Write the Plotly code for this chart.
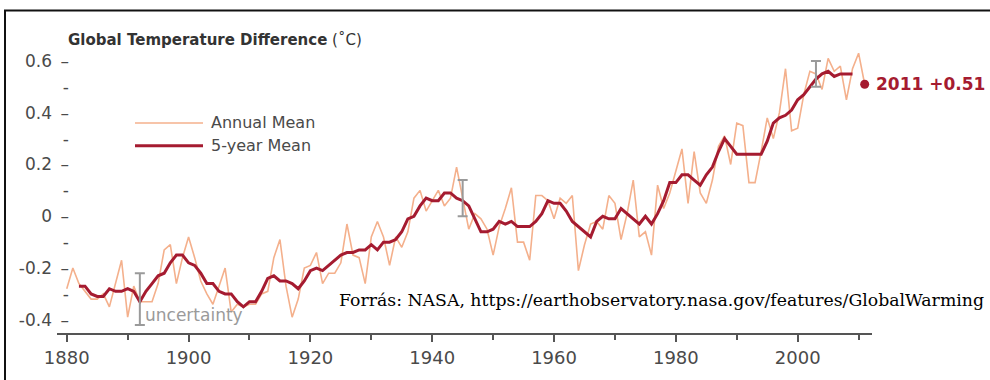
import plotly.graph_objects as go

# ---------------- data ----------------
annual_years = list(range(1880, 2012))
annual_mean = [
    -0.28, -0.20, -0.26, -0.29, -0.32, -0.32, -0.30, -0.35, -0.26, -0.17,
    -0.39, -0.27, -0.33, -0.33, -0.33, -0.26, -0.13, -0.11, -0.26, -0.16,
    -0.08, -0.16, -0.25, -0.30, -0.34, -0.27, -0.20, -0.37, -0.34, -0.35,
    -0.34, -0.34, -0.30, -0.29, -0.16, -0.09, -0.27, -0.39, -0.32, -0.20,
    -0.19, -0.14, -0.26, -0.22, -0.22, -0.18, -0.03, -0.15, -0.16, -0.26,
    -0.08, -0.02, -0.08, -0.19, -0.08, -0.12, -0.06, 0.07, 0.10, 0.02,
    0.06, 0.10, 0.04, 0.07, 0.19, 0.07, -0.05, 0.01, -0.01, -0.05,
    -0.15, -0.04, 0.03, 0.11, -0.10, -0.10, -0.17, 0.08, 0.08, 0.06,
    -0.01, 0.07, 0.05, 0.08, -0.21, -0.11, -0.03, -0.02, -0.05, 0.08,
    0.05, -0.09, 0.01, 0.14, -0.08, -0.06, -0.15, 0.12, 0.03, 0.09,
    0.17, 0.26, 0.05, 0.25, 0.09, 0.05, 0.14, 0.27, 0.31, 0.20,
    0.36, 0.35, 0.13, 0.13, 0.25, 0.38, 0.30, 0.40, 0.57, 0.33,
    0.34, 0.47, 0.56, 0.55, 0.49, 0.61, 0.56, 0.58, 0.45, 0.57,
    0.63, 0.51,
]

five_year_years = list(range(1882, 2010))
five_year_mean = [
    -0.27, -0.27, -0.30, -0.31, -0.31, -0.28, -0.29, -0.29,
    -0.28, -0.29, -0.33, -0.29, -0.26, -0.23, -0.22, -0.18, -0.15, -0.15,
    -0.18, -0.19, -0.22, -0.26, -0.26, -0.29, -0.30, -0.30, -0.33, -0.35,
    -0.33, -0.33, -0.29, -0.24, -0.23, -0.25, -0.25, -0.26, -0.28, -0.25,
    -0.21, -0.20, -0.21, -0.19, -0.17, -0.15, -0.14, -0.14, -0.13, -0.13,
    -0.11, -0.13, -0.10, -0.10, -0.09, -0.06, -0.01, 0.00, 0.04, 0.07,
    0.06, 0.06, 0.09, 0.09, 0.07, 0.06, 0.04, -0.01, -0.06, -0.06,
    -0.05, -0.02, -0.03, -0.02, -0.04, -0.04, -0.04, -0.02, 0.01, 0.06,
    0.05, 0.05, 0.02, -0.02, -0.04, -0.06, -0.08, -0.02, 0.00, -0.01,
    -0.01, 0.03, 0.01, -0.01, -0.03, 0.00, -0.03, 0.01, 0.06, 0.13,
    0.13, 0.16, 0.16, 0.14, 0.12, 0.16, 0.19, 0.25, 0.30, 0.27,
    0.24, 0.24, 0.24, 0.24, 0.24, 0.29, 0.36, 0.38, 0.39, 0.41,
    0.45, 0.47, 0.50, 0.53, 0.55, 0.56, 0.54, 0.55, 0.55, 0.55,
]

uncertainty_years = [1892, 1945, 2003]
uncertainty_center = [-0.32, 0.07, 0.55]
uncertainty_half = [0.10, 0.07, 0.05]

highlight_year = [2011]
highlight_value = [0.51]
highlight_label = "2011 +0.51"

y_tick_vals = [-0.4, -0.3, -0.2, -0.1, 0.0, 0.1, 0.2, 0.3, 0.4, 0.5, 0.6]
y_tick_text = ["-0.4\u2002–", "-", "-0.2\u2002–", "-", "0\u2002–", "-",
               "0.2\u2002–", "-", "0.4\u2002–", "-", "0.6\u2002–"]
x_major_ticks = [1880, 1900, 1920, 1940, 1960, 1980, 2000]
x_minor_ticks = [1890, 1910, 1930, 1950, 1970, 1990, 2010]

title_text = "<b>Global Temperature Difference</b> (˚C)"
legend_labels = ["Annual Mean", "5-year Mean"]
source_text = "Forrás: NASA, https://earthobservatory.nasa.gov/features/GlobalWarming"

# ---------------- style ----------------
ANNUAL_COLOR = "#F4B08C"
FIVE_COLOR = "#A51B30"
GRAY_TXT = "#4a4a4a"
UNC_COLOR = "#9a9a9a"
SANS = "DejaVu Sans"

W, H = 990, 380
ML, MR, MT, MB = 57, 118, 48, 43
PW = W - ML - MR
PH = H - MT - MB


def px(xpix):
    return (xpix - ML) / PW


def py(ypix):
    return (H - MB - ypix) / PH


fig = go.Figure()

fig.add_trace(go.Scatter(
    x=annual_years, y=annual_mean, mode="lines",
    line=dict(color=ANNUAL_COLOR, width=1.6), name=legend_labels[0],
    hoverinfo="x+y",
))
fig.add_trace(go.Scatter(
    x=five_year_years, y=five_year_mean, mode="lines",
    line=dict(color=FIVE_COLOR, width=3), name=legend_labels[1],
    hoverinfo="x+y",
))
fig.add_trace(go.Scatter(
    x=uncertainty_years, y=uncertainty_center, mode="markers",
    marker=dict(size=1, color="rgba(0,0,0,0)"),
    error_y=dict(type="data", array=uncertainty_half, visible=True,
                 color=UNC_COLOR, thickness=2, width=5),
    hoverinfo="skip", name="uncertainty",
))
fig.add_trace(go.Scatter(
    x=highlight_year, y=highlight_value, mode="markers",
    marker=dict(size=9, color=FIVE_COLOR), cliponaxis=False,
    hoverinfo="x+y", name="2011",
))

shapes = [
    # legend samples
    dict(type="line", xref="paper", yref="paper", x0=px(135), x1=px(203),
         y0=py(124), y1=py(124), line=dict(color=ANNUAL_COLOR, width=1.6)),
    dict(type="line", xref="paper", yref="paper", x0=px(135), x1=px(203),
         y0=py(147), y1=py(147), line=dict(color=FIVE_COLOR, width=3)),
    # frame (top and left edges visible)
    dict(type="rect", xref="paper", yref="paper", x0=px(5), x1=px(1000),
         y0=py(400), y1=py(10), line=dict(color="#111", width=2),
         fillcolor="rgba(0,0,0,0)", layer="above"),
]

annotations = [
    dict(text=title_text, xref="paper", yref="paper", x=px(66), y=py(40),
         xanchor="left", yanchor="middle", showarrow=False,
         font=dict(family=SANS, size=15, color="#333")),
    dict(text=legend_labels[0], xref="paper", yref="paper", x=px(209), y=py(124),
         xanchor="left", yanchor="middle", showarrow=False,
         font=dict(family=SANS, size=16, color=GRAY_TXT)),
    dict(text=legend_labels[1], xref="paper", yref="paper", x=px(209), y=py(147),
         xanchor="left", yanchor="middle", showarrow=False,
         font=dict(family=SANS, size=16, color=GRAY_TXT)),
    dict(text="uncertainty", x=uncertainty_years[0], y=-0.38, xref="x", yref="y",
         xanchor="left", yanchor="middle", xshift=3, showarrow=False,
         font=dict(family=SANS, size=17, color=UNC_COLOR)),
    dict(text="<b>" + highlight_label + "</b>", x=highlight_year[0], y=highlight_value[0],
         xref="x", yref="y", xanchor="left", yanchor="middle", xshift=9,
         showarrow=False, font=dict(family=SANS, size=17, color=FIVE_COLOR)),
    dict(text=source_text, xref="paper", yref="paper", x=px(986), y=py(304),
         xanchor="right", yanchor="middle", showarrow=False,
         font=dict(family="DejaVu Serif", size=17.3, color="#000")),
]

fig.update_layout(
    width=W, height=H,
    margin=dict(l=ML, r=MR, t=MT, b=MB, pad=0),
    paper_bgcolor="white", plot_bgcolor="white",
    showlegend=False,
    shapes=shapes, annotations=annotations,
    xaxis=dict(
        range=[1878.4, 2012.2], showgrid=False, zeroline=False,
        showline=True, linecolor="#555", linewidth=2,
        tickmode="array", tickvals=x_major_ticks,
        ticks="outside", ticklen=7, tickwidth=1.5, tickcolor="#555",
        tickfont=dict(family=SANS, size=18, color=GRAY_TXT),
        minor=dict(tickmode="array", tickvals=x_minor_ticks, ticks="outside",
                   ticklen=5, tickwidth=1.5, tickcolor="#555"),
        fixedrange=True,
    ),
    yaxis=dict(
        range=[-0.451, 0.65], showgrid=False, zeroline=False, showline=False,
        anchor="free", position=px(69),
        tickmode="array", tickvals=y_tick_vals, ticktext=y_tick_text,
        ticks="", tickfont=dict(family=SANS, size=17, color=GRAY_TXT),
        fixedrange=True,
    ),
)

fig.write_html(
    "out.html",
    config={"displayModeBar": False},
    post_script="document.body.style.margin='0px';document.body.style.overflow='hidden';",
)
